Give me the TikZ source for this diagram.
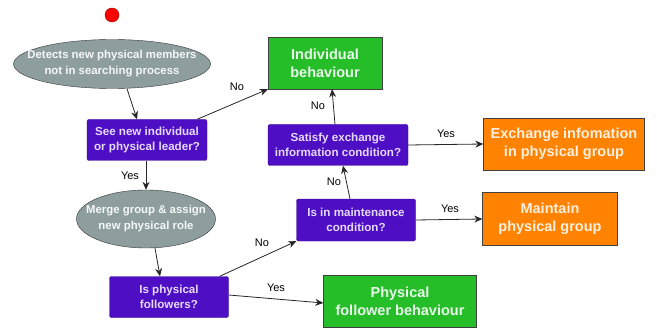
\documentclass[tikz,border=0pt]{standalone}
\usepackage{fontspec}
\setmainfont{Liberation Sans}
\usetikzlibrary{arrows.meta,shapes.geometric}
\definecolor{stone}{RGB}{142, 158, 158}
\definecolor{indigo}{RGB}{78, 14, 196}
\definecolor{lime}{RGB}{38, 190, 40}
\definecolor{tangerine}{RGB}{255, 130, 0}
\definecolor{lavender}{RGB}{230, 218, 255}

\begin{document}
\begin{tikzpicture}[x=1pt, y=-1pt,
    blob/.style={ellipse, draw=black!80, fill=stone, text=white!92!stone, font=\bfseries\fontsize{11.4}{16}\selectfont,
                 align=center, inner sep=0pt, inner xsep=-40pt},
    query/.style={rectangle, rounded corners=2pt, draw=indigo!70!black, fill=indigo, text=lavender,
                  font=\bfseries\fontsize{11.6}{15}\selectfont, align=center, inner sep=0pt},
    act/.style={rectangle, draw=black!75, fill=lime, text=white!90!lime,
                font=\bfseries\fontsize{14.5}{18}\selectfont, align=center, inner sep=0pt},
    grp/.style={rectangle, draw=black!75, fill=tangerine, text=white!88!tangerine,
                font=\bfseries\fontsize{14.5}{18}\selectfont, align=center, inner sep=0pt},
    link/.style={-{Stealth[length=8pt, width=7pt]}, black!85, thick},
    tag/.style={font=\fontsize{11}{12}\selectfont}]
            % Frame
            \useasboundingbox (0, 0) rectangle (657, 329);
            % Start
            \node[circle, draw=red!60!black, fill=red, minimum size=14pt, inner sep=0pt] (start) at (112, 15) {};
            % Left column
            \node[blob, minimum width=197pt, minimum height=49pt] (detect) at (112, 64) {Detects new physical members\\not in searching process};
            \node[query, minimum width=120pt, minimum height=41pt] (see)   at (147, 140) {See new individual\\or physical leader?};
            \node[blob, minimum width=139pt, minimum height=58pt] (merge)  at (146, 219) {Merge group \& assign\\new physical role};
            \node[query, minimum width=119pt, minimum height=41pt] (isfol) at (169, 297) {Is physical\\followers?};
            % Middle column
            \node[act, minimum width=114pt, minimum height=52pt] (indiv)   at (325, 63)  {Individual\\behaviour};
            \node[query, minimum width=140pt, minimum height=41pt] (satis) at (338, 145) {Satisfy exchange\\information condition?};
            \node[query, minimum width=119pt, minimum height=42pt] (maint) at (356, 220) {Is in maintenance\\condition?};
            \node[act, minimum width=153pt, minimum height=52pt] (follow)  at (400, 301) {Physical\\follower behaviour};
            % Right column
            \node[grp, minimum width=161pt, minimum height=52pt] (exch)    at (564, 144) {Exchange infomation\\in physical group};
            \node[grp, minimum width=135pt, minimum height=53pt] (keep)    at (550, 219) {Maintain\\physical group};
            % Connectors
            \draw[link] ([xshift=15pt]detect.south)     -- ([xshift=-10pt]see.north);
            \draw[link] ([xshift=-10pt]see.north east)  -- (indiv.south west);
            \draw[link] ([xshift=-1pt]see.south)        -- (merge.north);
            \draw[link] ([xshift=9pt]merge.south)       -- ([xshift=-9pt]isfol.north);
            \draw[link] ([xshift=-9pt]isfol.north east) -- (maint.south west);
            \draw[link] ([yshift=2pt]isfol.east)        -- ([yshift=-2pt]follow.west);
            \draw[link] ([xshift=-6pt]maint.north)      -- ([xshift=5pt]satis.south);
            \draw[link] ([xshift=-3pt]satis.north)      -- ([xshift=7pt]indiv.south);
            \draw[link] (satis.east)                    -- (exch.west);
            \draw[link] (maint.east)                    -- (keep.west);
            % Labels
            \node[tag] (no1)  at (237, 87)  {No};
            \node[tag] (yes1) at (130, 176) {Yes};
            \node[tag] (no2)  at (262, 243) {No};
            \node[tag] (yes2) at (276, 288) {Yes};
            \node[tag] (no3)  at (334, 182) {No};
            \node[tag] (no4)  at (318, 106) {No};
            \node[tag] (yes3) at (446, 134) {Yes};
            \node[tag] (yes4) at (450, 209) {Yes};
\end{tikzpicture}
\end{document}
